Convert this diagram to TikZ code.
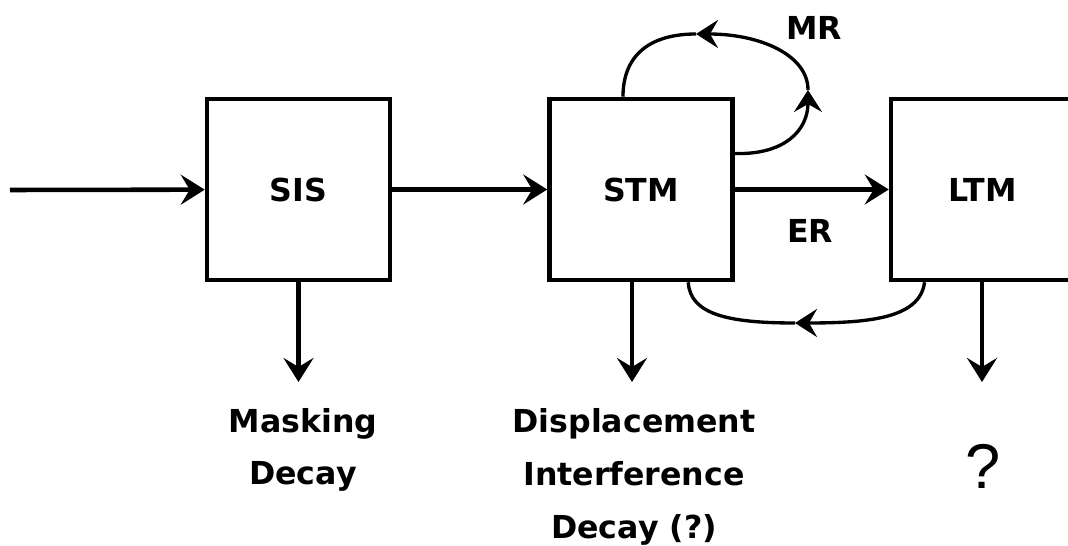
\documentclass[tikz,border=0pt]{standalone}
\usepackage{fontspec}
\newfontfamily\diagfont{DejaVu Sans}
\newfontfamily\qfont{Liberation Sans}
\usetikzlibrary{arrows.meta}

\begin{document}
\begin{tikzpicture}[
    x=0.02cm, y=-0.02cm,
    every node/.style={font=\diagfont\bfseries\fontsize{18}{30}\selectfont, align=center},
    store/.style={draw, line width=2.6pt, minimum width=3.66cm, minimum height=3.62cm, inner sep=0pt},
    flow/.style={line width=2.6pt, -{Stealth[length=4.8mm, width=6mm, inset=1.8mm]}},
    rehearsal/.style={line width=1.9pt},
    rehearsaltip/.style={rehearsal, -{Stealth[length=4.4mm, width=5.6mm, inset=1.6mm]}}
]
\useasboundingbox (0,0) rectangle (1068,546);
\clip (0,0) rectangle (1068,546);

% memory stores
\node[store] (sis) at (298.5,189.5) {SIS};
\node[store] (stm) at (641,189.5) {STM};
\node[store] (ltm) at (982.5,189.5) {LTM};

% main flow
\coordinate (input) at (10,190);
\draw[flow] (input) -- (sis);
\draw[flow] (sis) -- (stm);
\draw[flow] (stm) -- (ltm);

% maintenance rehearsal loop
\coordinate (mrright) at (808,90);
\coordinate (mrtop) at (696,34);
\draw[rehearsaltip] (stm.21) .. controls (785,155) and (808,130) .. (mrright);
\draw[rehearsaltip] (mrright) .. controls (808,55) and (760,34) .. (mrtop);
\draw[rehearsal] (mrtop) .. controls (650,34) and (623,55) .. (stm.101);
\node (mr) at (814,28) {MR};

% retrieval back from LTM
\coordinate (ltmback) at (795,323);
\draw[rehearsaltip] (ltm.238) .. controls (920,318) and (870,323) .. (ltmback);
\draw[rehearsal] (ltmback) .. controls (730,323) and (690,315) .. (stm.297);
\node (er) at (810,231) {ER};

% forgetting
\coordinate (sisout) at (298.5,382);
\coordinate (stmout) at (632,382);
\coordinate (ltmout) at (982,382);
\draw[flow] (sis) -- (sisout);
\draw[flow] (stm.south -| stmout) -- (stmout);
\draw[flow] (ltm.south -| ltmout) -- (ltmout);

\node (sisloss) at (303,450) {Masking\\Decay};
\node (stmloss) at (634,477) {Displacement\\Interference\\Decay (?)};
\node[font=\qfont\fontsize{36}{40}\selectfont] (ltmloss) at (983,466) {?};
\end{tikzpicture}
\end{document}
